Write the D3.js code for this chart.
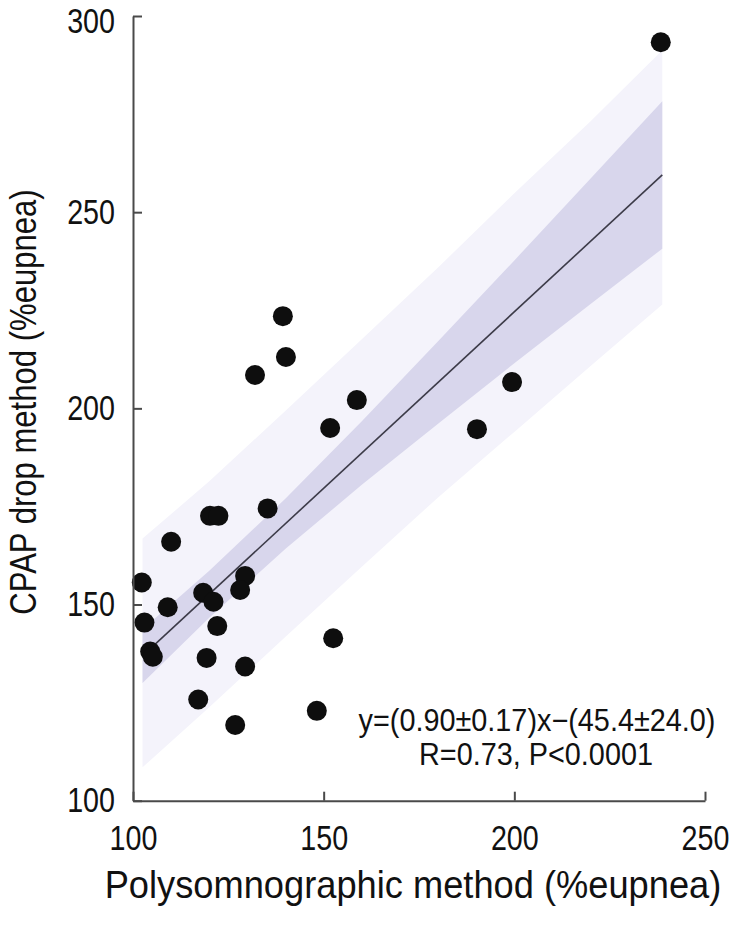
<!DOCTYPE html>
<html>
<head>
<meta charset="utf-8">
<script src="https://cdn.jsdelivr.net/npm/d3@7/dist/d3.min.js"></script>
<style>
  html, body { margin: 0; padding: 0; background: #ffffff; }
  svg { display: block; }
  text { font-family: "Liberation Sans", Arial, Helvetica, sans-serif; }
</style>
</head>
<body>
<svg id="chart" width="739" height="925"></svg>
<script>
// ---- data ----
const xTicks = [100, 150, 200, 250];
const yTicks = [100, 150, 200, 250, 300];

const pointX = [238.4, 139.3, 140.1, 132.0, 158.7, 151.7, 190.2, 199.4,
                102.3, 110.0, 120.2, 122.4, 135.3, 129.4, 128.1, 118.4,
                121.1, 109.1, 103.0, 122.1, 104.5, 105.2, 119.3, 129.4,
                152.5, 117.1, 148.2, 126.8];
const pointY = [293.3, 223.5, 213.1, 208.5, 202.1, 195.0, 194.7, 206.7,
                155.6, 166.0, 172.6, 172.6, 174.5, 157.3, 153.7, 153.0,
                150.7, 149.3, 145.4, 144.5, 138.0, 136.7, 136.4, 134.2,
                141.4, 125.8, 122.9, 119.3];

// confidence (inner) and prediction (outer) bands, read at several x positions
const bandX      = [102.5, 120.0, 140.0, 160.0, 180.0, 200.0, 220.0, 238.8];
const innerLow   = [130.0, 146.6, 164.2, 180.5, 196.1, 211.5, 226.6, 240.7];
const innerHigh  = [143.7, 158.6, 177.0, 196.7, 217.1, 237.7, 258.6, 278.3];
const outerLow   = [108.5, 123.8, 141.8, 159.6, 177.3, 194.0, 210.8, 226.5];
const outerHigh  = [166.8, 181.4, 199.4, 217.6, 235.9, 254.8, 273.2, 291.3];

// fitted line end points
const fitX = [102.5, 238.8];
const fitY = [136.9, 259.5];

const eqLine1 = "y=(0.90\u00B10.17)x\u2212(45.4\u00B124.0)";
const eqLine2 = "R=0.73, P<0.0001";
const xTitle = "Polysomnographic method (%eupnea)";
const yTitle = "CPAP drop method (%eupnea)";

// ---- drawing ----
const svg = d3.select("#chart");

const x = d3.scaleLinear().domain([100, 250]).range([133, 705]);
const y = d3.scaleLinear().domain([100, 300]).range([800.7, 16]);

const outerData = bandX.map((v, i) => ({x: v, lo: outerLow[i], hi: outerHigh[i]}));
const innerData = bandX.map((v, i) => ({x: v, lo: innerLow[i], hi: innerHigh[i]}));

const area = d3.area()
  .x(d => x(d.x))
  .y0(d => y(d.lo))
  .y1(d => y(d.hi));

svg.append("path").datum(outerData).attr("d", area).attr("fill", "#f4f3fb");
svg.append("path").datum(innerData).attr("d", area).attr("fill", "#d8d6ec");

const fitData = fitX.map((v, i) => ({x: v, y: fitY[i]}));
svg.append("path").datum(fitData)
  .attr("d", d3.line().x(d => x(d.x)).y(d => y(d.y)))
  .attr("fill", "none").attr("stroke", "#3c3b48").attr("stroke-width", 1.6);

const pts = pointX.map((v, i) => ({x: v, y: pointY[i]}));
svg.append("g").selectAll("circle").data(pts).join("circle")
  .attr("cx", d => x(d.x)).attr("cy", d => y(d.y)).attr("r", 10)
  .attr("fill", "#0e0e0e");

// axes
const tickScale = 0.82;
const xAxis = d3.axisBottom(x).tickValues(xTicks).tickFormat(d3.format("d"))
  .tickSize(-9).tickSizeOuter(0).tickPadding(24);
const yAxis = d3.axisLeft(y).tickValues(yTicks).tickFormat(d3.format("d"))
  .tickSize(-9).tickSizeOuter(0).tickPadding(18);

const gx = svg.append("g").attr("transform", "translate(0,800.7)").call(xAxis);
const gy = svg.append("g").attr("transform", "translate(133,0)").call(yAxis);

[gx, gy].forEach(g => {
  g.select(".domain").attr("stroke", "#4a4a4a").attr("stroke-width", 2);
  g.selectAll(".tick line").attr("stroke", "#4a4a4a").attr("stroke-width", 2);
  g.selectAll(".tick text").attr("fill", "#111").style("font-size", "35px")
    .style("font-family", "'Liberation Sans', Arial, sans-serif")
    .attr("transform", `scale(${tickScale},1)`);
});
gy.selectAll(".tick text").attr("x", -18 / tickScale);
// keep the top label inside the picture
gy.selectAll(".tick text").filter(d => d === 300).attr("dy", "0.46em");

// axis titles
svg.append("text").attr("transform", "translate(413,898) scale(0.93,1)")
  .attr("text-anchor", "middle")
  .style("font-size", "39px").attr("fill", "#111").text(xTitle);
svg.append("text").attr("transform", "translate(36,402) rotate(-90) scale(0.84,1)")
  .attr("text-anchor", "middle").style("font-size", "37px").attr("fill", "#111").text(yTitle);

// equation text
svg.append("text").attr("transform", "translate(537,731) scale(0.93,1)")
  .attr("text-anchor", "middle")
  .style("font-size", "31px").attr("fill", "#111").text(eqLine1);
svg.append("text").attr("transform", "translate(536,765) scale(0.93,1)")
  .attr("text-anchor", "middle")
  .style("font-size", "31px").attr("fill", "#111").text(eqLine2);
</script>
</body>
</html>
